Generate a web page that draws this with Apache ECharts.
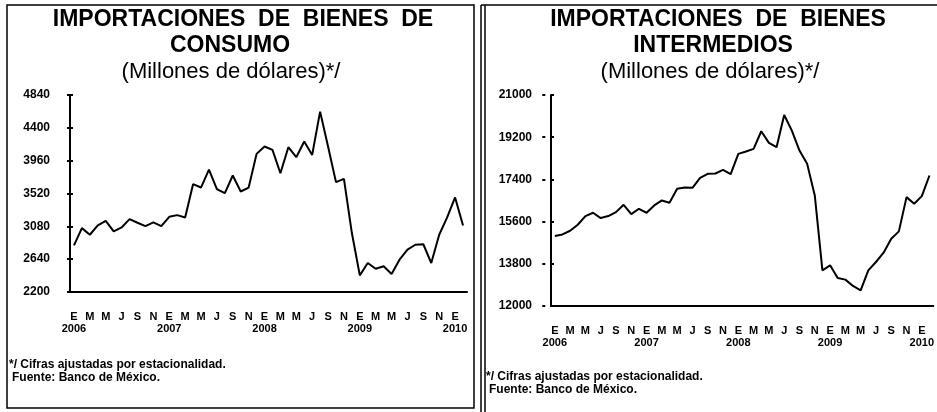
<!DOCTYPE html>
<html>
<head>
<meta charset="utf-8">
<script src="https://cdn.jsdelivr.net/npm/echarts@6/dist/echarts.min.js"></script>
<style>
  html, body { margin: 0; padding: 0; background: #fff; }
  #chart { width: 937px; height: 412px; }
</style>
</head>
<body>
<div id="chart"></div>
<script>
// meses en español (inicial), etiquetas cada dos meses
const monthLetters = ['E', 'F', 'M', 'A', 'M', 'J', 'J', 'A', 'S', 'O', 'N', 'D'];
const firstYear = 2006;
const nMonths = 50; // ene 2006 - feb 2010

// millones de dólares, cifras ajustadas por estacionalidad
const consumo = [
  2825, 3056, 2967, 3092, 3154, 3012, 3065, 3177, 3128, 3083,
  3132, 3083, 3208, 3230, 3199, 3645, 3600, 3841, 3578, 3525,
  3761, 3547, 3600, 4051, 4150, 4104, 3792, 4140, 4006, 4216,
  4037, 4617, 4150, 3672, 3716, 2990, 2423, 2588, 2512, 2544,
  2441, 2633, 2767, 2833, 2840, 2588, 2967, 3199, 3467, 3092
];
const intermedios = [
  14983, 15054, 15210, 15466, 15835, 15977, 15750, 15835, 16005, 16317,
  15920, 16147, 15977, 16289, 16502, 16402, 16998, 17055, 17041, 17467,
  17637, 17651, 17807, 17623, 18488, 18588, 18701, 19453, 18957, 18772,
  20149, 19482, 18630, 18063, 16715, 13522, 13735, 13195, 13125, 12855,
  12670, 13522, 13877, 14274, 14870, 15182, 16644, 16360, 16686, 17566
];

const months = [];
for (let i = 0; i < nMonths; i++) {
  months.push((firstYear + Math.floor(i / 12)) + '-' + String(i % 12 + 1).padStart(2, '0'));
}

const FONT = '"Liberation Sans", Arial, sans-serif';
const black = '#000';

const grids = [
  { left: 70, top: 95, width: 397, height: 197 },
  { left: 551, top: 95, width: 388, height: 211 }
];

// eje principal: letra del mes cada dos meses
function mainX(gi) {
  return {
    type: 'category', gridIndex: gi, data: months, boundaryGap: true, position: 'bottom',
    axisLine: { lineStyle: { color: black, width: 2 } },
    axisTick: { inside: true, length: 3, interval: 1, lineStyle: { color: black, width: 2 } },
    axisLabel: {
      interval: (i) => i % 2 === 0, showMinLabel: true, showMaxLabel: true,
      margin: 19, fontFamily: FONT, fontWeight: 'bold', fontSize: 11, color: black,
      formatter: (v, i) => (i % 2 === 0 ? monthLetters[i % 12] : '')
    },
    splitLine: { show: false }
  };
}
// eje superpuesto: marcas hacia abajo y los años debajo de las letras
function overlayX(gi) {
  return {
    type: 'category', gridIndex: gi, data: months, boundaryGap: true, position: 'top',
    offset: -grids[gi].height,
    axisLine: { show: false },
    axisTick: { inside: true, length: 3, interval: 1, lineStyle: { color: black, width: 2 } },
    axisLabel: {
      interval: (i) => i % 12 === 0, showMinLabel: true, showMaxLabel: true,
      margin: -42, fontFamily: FONT, fontWeight: 'bold', fontSize: 11, color: black,
      formatter: (v, i) => (i % 12 === 0 ? String(firstYear + i / 12) : '')
    },
    splitLine: { show: false }
  };
}
function mainY(gi, min, max, step, margin) {
  return {
    type: 'value', gridIndex: gi, min: min, max: max, interval: step, position: 'left',
    axisLine: { show: true, lineStyle: { color: black, width: 2 } },
    axisTick: { show: true, inside: true, length: 3, lineStyle: { color: black, width: 2 } },
    axisLabel: {
      margin: margin, fontFamily: FONT, fontWeight: 'bold', fontSize: 12, color: black,
      formatter: (v) => String(v)
    },
    splitLine: { show: false }
  };
}
function overlayY(gi, min, max, step) {
  return {
    type: 'value', gridIndex: gi, min: min, max: max, interval: step, position: 'right',
    offset: -grids[gi].width,
    axisLine: { show: false },
    axisTick: { show: true, inside: true, length: 3, lineStyle: { color: black, width: 2 } },
    axisLabel: { show: false },
    splitLine: { show: false }
  };
}

function txt(x, y, text, font, align) {
  return {
    type: 'text', x: x, y: y,
    style: {
      text: text, font: font, fill: black,
      align: align, textAlign: align, verticalAlign: 'middle', textVerticalAlign: 'middle'
    }
  };
}

const titleFont = 'bold 23px ' + FONT;
const subFont = '22px ' + FONT;
const noteFont = 'bold 12px ' + FONT;

const chart = echarts.init(document.getElementById('chart'));
chart.setOption({
  backgroundColor: '#fff',
  animation: false,
  grid: grids,
  xAxis: [mainX(0), overlayX(0), mainX(1), overlayX(1)],
  yAxis: [
    mainY(0, 2200, 4840, 440, 20), overlayY(0, 2200, 4840, 440),
    mainY(1, 12000, 21000, 1800, 19), overlayY(1, 12000, 21000, 1800)
  ],
  series: [
    {
      name: 'Bienes de consumo', type: 'line', xAxisIndex: 0, yAxisIndex: 0,
      data: consumo, symbol: 'none', lineStyle: { color: black, width: 2 }
    },
    {
      name: 'Bienes intermedios', type: 'line', xAxisIndex: 2, yAxisIndex: 2,
      data: intermedios, symbol: 'none', lineStyle: { color: black, width: 2 }
    }
  ],
  graphic: [
    // marcos
    { type: 'rect', shape: { x: 7, y: 5, width: 467, height: 403 }, style: { fill: 'none', stroke: black, lineWidth: 1.5 } },
    { type: 'line', shape: { x1: 481, y1: 5, x2: 481, y2: 412 }, style: { stroke: black, lineWidth: 1.5 } },
    { type: 'line', shape: { x1: 485, y1: 5, x2: 485, y2: 412 }, style: { stroke: black, lineWidth: 1.5 } },
    { type: 'line', shape: { x1: 481, y1: 5, x2: 937, y2: 5 }, style: { stroke: black, lineWidth: 1.5 } },
    // titulos
    txt(243, 20, 'IMPORTACIONES  DE  BIENES  DE', titleFont, 'center'),
    txt(230, 46, 'CONSUMO', titleFont, 'center'),
    txt(231, 72, '(Millones de dólares)*/', subFont, 'center'),
    txt(718, 20, 'IMPORTACIONES  DE  BIENES', titleFont, 'center'),
    txt(713, 46, 'INTERMEDIOS', titleFont, 'center'),
    txt(710, 72, '(Millones de dólares)*/', subFont, 'center'),
    // notas
    txt(9, 365, '*/ Cifras ajustadas por estacionalidad.', noteFont, 'left'),
    txt(12, 378, 'Fuente: Banco de México.', noteFont, 'left'),
    txt(486, 377, '*/ Cifras ajustadas por estacionalidad.', noteFont, 'left'),
    txt(489, 390, 'Fuente: Banco de México.', noteFont, 'left')
  ]
});
window.addEventListener('resize', () => {
  chart.resize();
});
</script>
</body>
</html>
